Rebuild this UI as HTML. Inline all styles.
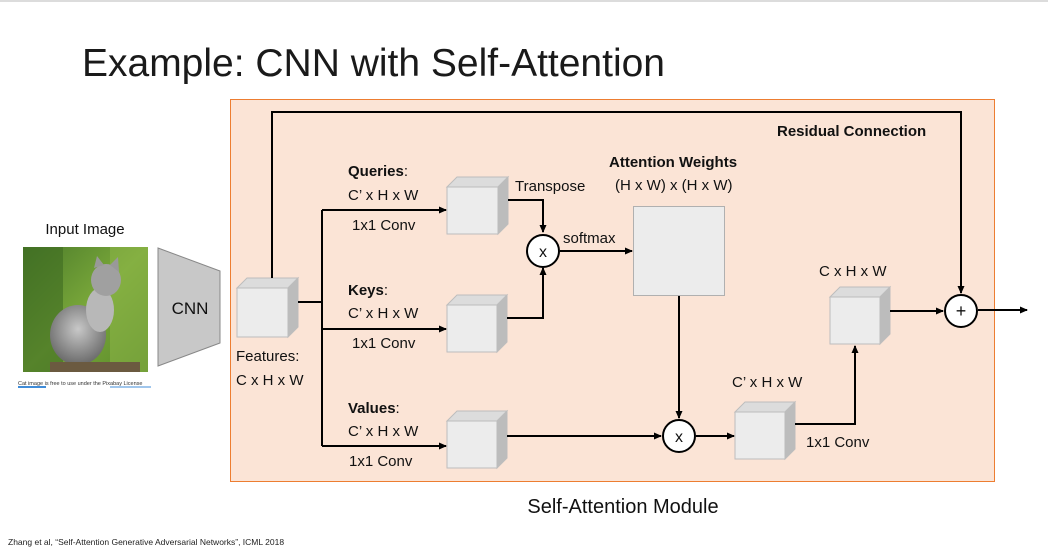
<!DOCTYPE html>
<html><head><meta charset="utf-8"><style>
html,body{margin:0;padding:0;background:#fff;}
svg{display:block;font-family:"Liberation Sans",sans-serif;}
</style></head><body>
<svg width="1048" height="553" viewBox="0 0 1048 553" xmlns="http://www.w3.org/2000/svg">
<defs>
<marker id="a" markerWidth="8" markerHeight="8" refX="7" refY="4" orient="auto" markerUnits="userSpaceOnUse"><path d="M0,0.5 L8,4 L0,7.5 z" fill="#000"/></marker>
<linearGradient id="bg" x1="0" y1="0" x2="1" y2="1"><stop offset="0" stop-color="#4a7a2a"/><stop offset="0.5" stop-color="#7aa83a"/><stop offset="1" stop-color="#5a8a2a"/></linearGradient>
<radialGradient id="cat" cx="0.5" cy="0.4" r="0.6"><stop offset="0" stop-color="#c8c8c8"/><stop offset="1" stop-color="#6a6a6a"/></radialGradient>
</defs>
<line x1="0" y1="1" x2="1048" y2="1" stroke="#d0d0d0" stroke-width="1.5"/>
<text x="82" y="76" font-size="39" fill="#1a1a1a" textLength="583" lengthAdjust="spacingAndGlyphs">Example: CNN with Self-Attention</text>

<rect x="230.5" y="99.5" width="764" height="382" fill="#fbe4d6" stroke="#ed7d31" stroke-width="1"/>

<!-- cat image -->
<rect x="23" y="247" width="125" height="125" fill="url(#bg)"/>
<rect x="23" y="247" width="40" height="125" fill="#3d6a22" opacity="0.6"/>
<rect x="110" y="247" width="38" height="125" fill="#8fb84a" opacity="0.5"/>
<ellipse cx="78" cy="335" rx="28" ry="30" fill="url(#cat)"/>
<ellipse cx="100" cy="310" rx="14" ry="22" fill="#b8b8b8"/>
<ellipse cx="106" cy="280" rx="15" ry="16" fill="#a0a0a0"/>
<path d="M94,268 L97,256 L104,265 Z M110,265 L118,257 L119,272 Z" fill="#999"/>
<rect x="50" y="362" width="90" height="10" fill="#6b5a40"/>
<text x="85" y="234" font-size="15" fill="#111" text-anchor="middle">Input Image</text>
<text x="18" y="385" font-size="5.5" fill="#333">Cat image is free to use under the Pixabay License</text>
<line x1="18" y1="387" x2="46" y2="387" stroke="#0066cc" stroke-width="1.5"/>
<line x1="110" y1="387" x2="151" y2="387" stroke="#0066cc" stroke-width="0.7"/>

<!-- CNN -->
<polygon points="158,248 220,271 220,343 158,366" fill="#c8c8c8" stroke="#888" stroke-width="1"/>
<text x="190" y="314" font-size="17" fill="#111" text-anchor="middle">CNN</text>

<g stroke="#bdbdbd" stroke-width="1">
<polygon points="237,288 247,278 298,278 288,288" fill="#dcdcdc"/><polygon points="288,288 298,278 298,327 288,337" fill="#bcbcbc"/><rect x="237" y="288" width="51" height="49" fill="#ececec"/>
<polygon points="447,187 457,177 508,177 498,187" fill="#dcdcdc"/><polygon points="498,187 508,177 508,224 498,234" fill="#bcbcbc"/><rect x="447" y="187" width="51" height="47" fill="#ececec"/>
<polygon points="447,305 457,295 507,295 497,305" fill="#dcdcdc"/><polygon points="497,305 507,295 507,342 497,352" fill="#bcbcbc"/><rect x="447" y="305" width="50" height="47" fill="#ececec"/>
<polygon points="447,421 457,411 507,411 497,421" fill="#dcdcdc"/><polygon points="497,421 507,411 507,458 497,468" fill="#bcbcbc"/><rect x="447" y="421" width="50" height="47" fill="#ececec"/>
<polygon points="735,412 745,402 795,402 785,412" fill="#dcdcdc"/><polygon points="785,412 795,402 795,449 785,459" fill="#bcbcbc"/><rect x="735" y="412" width="50" height="47" fill="#ececec"/>
<polygon points="830,297 840,287 890,287 880,297" fill="#dcdcdc"/><polygon points="880,297 890,287 890,334 880,344" fill="#bcbcbc"/><rect x="830" y="297" width="50" height="47" fill="#ececec"/>
</g>
<rect x="633.5" y="206.5" width="91" height="89" fill="#ececec" stroke="#b0b0b0" stroke-width="1"/>

<g stroke="#000" stroke-width="2" fill="none">
<polyline points="272,278 272,112 961,112 961,293" marker-end="url(#a)"/>
<polyline points="298,302 322,302"/>
<polyline points="322,210 322,446"/>
<line x1="322" y1="210" x2="446" y2="210" marker-end="url(#a)"/>
<line x1="322" y1="329" x2="446" y2="329" marker-end="url(#a)"/>
<line x1="322" y1="446" x2="446" y2="446" marker-end="url(#a)"/>
<polyline points="508,200 543,200 543,232" marker-end="url(#a)"/>
<polyline points="507,318 543,318 543,268" marker-end="url(#a)"/>
<line x1="560" y1="251" x2="632" y2="251" marker-end="url(#a)"/>
<line x1="679" y1="296" x2="679" y2="418" marker-end="url(#a)"/>
<line x1="507" y1="436" x2="661" y2="436" marker-end="url(#a)"/>
<line x1="696" y1="436" x2="734" y2="436" marker-end="url(#a)"/>
<polyline points="795,424 855,424 855,346" marker-end="url(#a)"/>
<line x1="890" y1="311" x2="943" y2="311" marker-end="url(#a)"/>
<line x1="978" y1="310" x2="1027" y2="310" marker-end="url(#a)"/>
</g>
<g stroke="#000" stroke-width="2" fill="#fff">
<circle cx="543" cy="251" r="16"/><circle cx="679" cy="436" r="16"/><circle cx="961" cy="311" r="16"/>
</g>
<g font-size="16" fill="#111" text-anchor="middle">
<text x="543" y="257">x</text><text x="679" y="442">x</text><text x="961" y="317" font-size="18">+</text>
</g>

<g font-size="15" fill="#111">
<text x="348" y="176" font-weight="bold">Queries<tspan font-weight="normal">:</tspan></text>
<text x="348" y="200">C’ x H x W</text>
<text x="352" y="230">1x1 Conv</text>
<text x="348" y="295" font-weight="bold">Keys<tspan font-weight="normal">:</tspan></text>
<text x="348" y="318">C’ x H x W</text>
<text x="352" y="348">1x1 Conv</text>
<text x="348" y="413" font-weight="bold">Values<tspan font-weight="normal">:</tspan></text>
<text x="348" y="436">C’ x H x W</text>
<text x="349" y="466">1x1 Conv</text>
<text x="236" y="361">Features:</text>
<text x="236" y="385">C x H x W</text>
<text x="515" y="191">Transpose</text>
<text x="563" y="243">softmax</text>
<text x="609" y="167" font-weight="bold">Attention Weights</text>
<text x="615" y="190">(H x W) x (H x W)</text>
<text x="732" y="387">C’ x H x W</text>
<text x="806" y="447">1x1 Conv</text>
<text x="819" y="276">C x H x W</text>
<text x="777" y="136" font-weight="bold">Residual Connection</text>
</g>
<text x="623" y="513" font-size="20" fill="#111" text-anchor="middle">Self-Attention Module</text>
<text x="8" y="545" font-size="8.5" fill="#222">Zhang et al, “Self-Attention Generative Adversarial Networks”, ICML 2018</text>
</svg>
</body></html>
